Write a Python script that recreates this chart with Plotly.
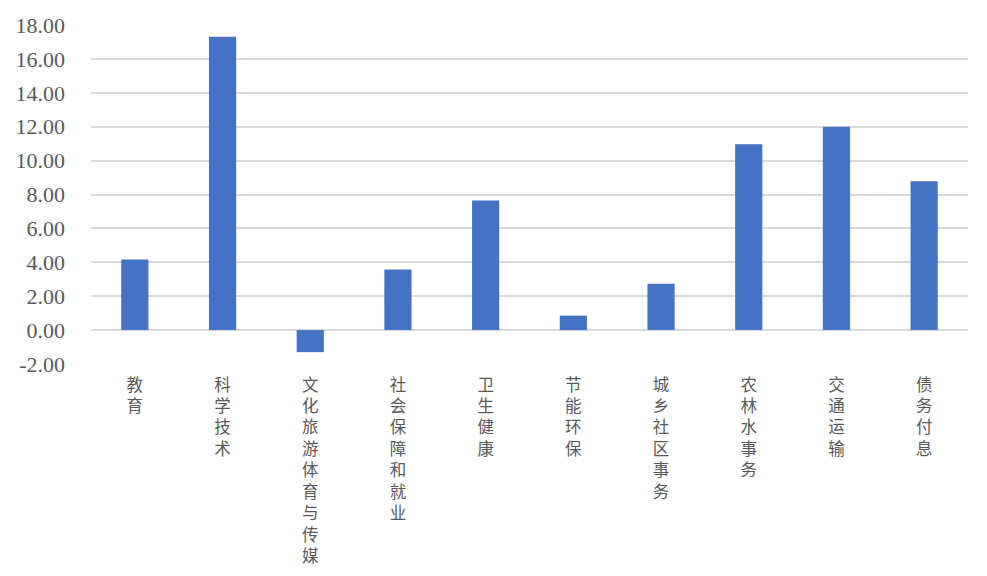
import plotly.graph_objects as go

categories = ['教育', '科学技术', '文化旅游体育与传媒', '社会保障和就业', '卫生健康',
              '节能环保', '城乡社区事务', '农林水事务', '交通运输', '债务付息']
values = [4.16, 17.30, -1.30, 3.57, 7.65, 0.85, 2.74, 10.97, 12.00, 8.78]
y_ticks = [-2, 0, 2, 4, 6, 8, 10, 12, 14, 16, 18]

# stack the characters vertically, like the original axis labels
tick_text = ['<br>'.join(list(c)) for c in categories]

fig = go.Figure(go.Bar(
    x=categories,
    y=values,
    marker_color='#4472c4',
    marker_line_width=0,
))

# page body has an 8px margin, so size the figure to fit inside it
fig.update_layout(
    width=971,
    height=560,
    plot_bgcolor='white',
    paper_bgcolor='white',
    margin=dict(l=83, r=11, t=17, b=204),
    bargap=0.69,
    showlegend=False,
    font=dict(family="'Liberation Serif', 'Times New Roman', serif", color='#595959'),
)
fig.update_xaxes(
    tickmode='array',
    tickvals=categories,
    ticktext=tick_text,
    tickangle=0,
    tickfont=dict(family="'Noto Sans CJK SC'", size=16.5, color='#595959'),
    showgrid=False,
    showline=False,
    ticklabelstandoff=9,
    automargin=False,
)
fig.update_yaxes(
    range=[-2, 18],
    tickvals=y_ticks,
    ticktext=[f'{v:.2f}' for v in y_ticks],
    tickfont=dict(family="'Liberation Serif', 'Times New Roman', serif", size=22, color='#595959'),
    showgrid=True,
    gridcolor='#d9d9d9',
    gridwidth=1.5,
    zeroline=True,
    zerolinecolor='#d9d9d9',
    zerolinewidth=1.5,
    showline=False,
    ticklabelstandoff=25,
    automargin=False,
)

fig.write_html('out.html')
